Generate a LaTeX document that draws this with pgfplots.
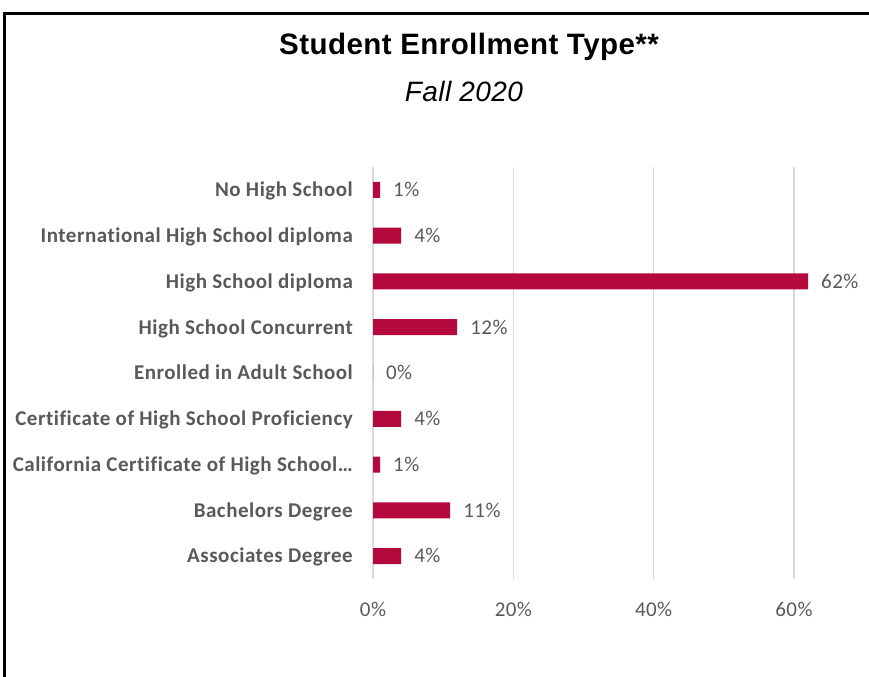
\documentclass[border=0pt]{standalone}
\usepackage{fontspec}
\usepackage{pgfplots}
\pgfplotsset{compat=1.18}
\setmainfont{Carlito}
\newfontfamily\arialfont{Liberation Sans}
\newfontfamily\catfont[LetterSpace=2.5,Ligatures=NoCommon]{Carlito}
\newfontfamily\numfont[LetterSpace=2]{Carlito}
\newfontfamily\titlefont[LetterSpace=1.5]{Liberation Sans}
\definecolor{barred}{HTML}{B5083C}
\definecolor{txtgray}{HTML}{595959}
\definecolor{gridgray}{HTML}{D9D9D9}
\begin{document}
\begin{tikzpicture}[x=1bp,y=1bp]
\path[use as bounding box] (0,0) rectangle (869,677);
\draw[line width=3bp,black] (4.2,0) -- (4.2,663.5) -- (869,663.5);
\node[font=\titlefont\bfseries\fontsize{29.5bp}{32bp}\selectfont] at (469,630) {Student Enrollment Type**};
\node[font=\titlefont\itshape\fontsize{28bp}{30bp}\selectfont] at (464,585) {Fall 2020};
\begin{axis}[
  at={(373bp,98bp)}, anchor=south west,
  scale only axis, width=421bp, height=412bp,
  xbar, bar width=16bp, bar shift=0pt,
  xmin=0, xmax=60, ymin=-0.5, ymax=8.5,
  clip=false,
  axis line style={draw=none},
  xmajorgrids, grid style={gridgray, line width=1.5bp},
  major tick length=0pt,
  xtick={0,20,40,60},
  xticklabels={0\%,20\%,40\%,60\%},
  ytick={0,...,8},
  yticklabels={Associates Degree,Bachelors Degree,California Certificate of High School…,Certificate of High School Proficiency,Enrolled in Adult School,High School Concurrent,High School diploma,International High School diploma,No High School},
  xticklabel style={font=\numfont\fontsize{21bp}{24bp}\selectfont, text=txtgray, anchor=center, inner sep=0pt, yshift=-30bp},
  yticklabel style={font=\catfont\bfseries\fontsize{21bp}{24bp}\selectfont, text=txtgray, anchor=base east, inner sep=0pt, xshift=-20bp, yshift=-6.8bp},
  /pgf/number format/assume math mode=true,
  point meta=x,
  nodes near coords={\pgfmathprintnumber{\pgfplotspointmeta}\%},
  every node near coord/.append style={font=\numfont\fontsize{21bp}{24bp}\selectfont, text=txtgray, anchor=base west, inner sep=0pt, xshift=13bp, yshift=-6.8bp},
]
\addplot[fill=barred, draw=none] coordinates {
  (4,0) (11,1) (1,2) (4,3) (0,4) (12,5) (62,6) (4,7) (1,8)
};
\end{axis}
\end{tikzpicture}
\end{document}
